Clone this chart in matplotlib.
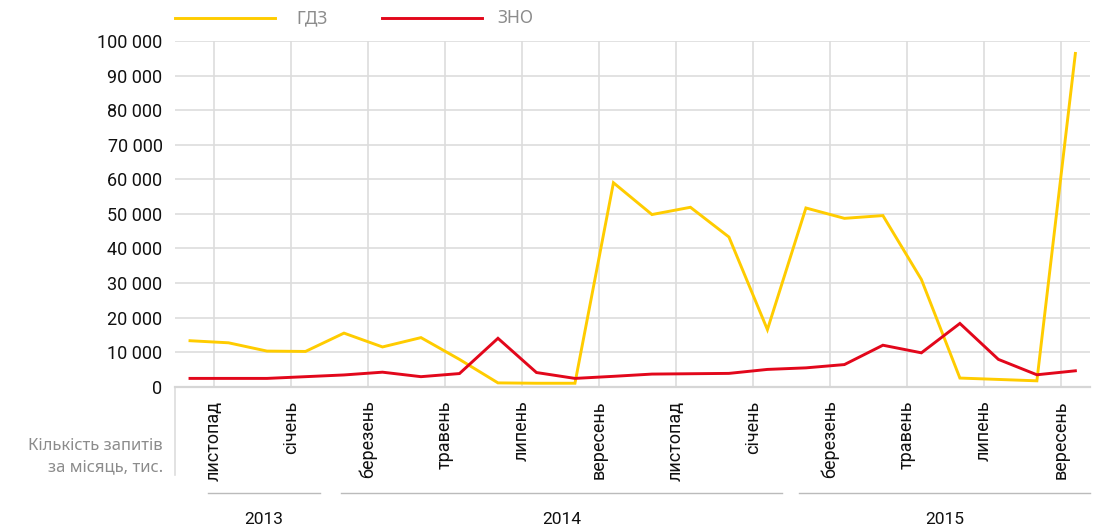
import matplotlib
matplotlib.use("Agg")
import matplotlib.pyplot as plt
import matplotlib.transforms as mtransforms
from matplotlib.lines import Line2D
from matplotlib.ticker import FuncFormatter

plt.rcParams["font.family"] = ["Roboto", "DejaVu Sans"]

# monthly values, Oct 2013 .. Sep 2015
gdz = [13300, 12700, 10300, 10200, 15500, 11500, 14200, 7900,
       1100, 1000, 1000, 59000, 49800, 51900, 43300, 16500,
       51700, 48700, 49500, 31000, 2500, 2100, 1700, 96400]
zno = [2400, 2400, 2400, 2900, 3400, 4200, 2900, 3800,
       14000, 4100, 2400, 3000, 3650, 3750, 3850, 5000,
       5450, 6400, 12000, 9800, 18300, 7900, 3450, 4600]

month_labels = ["листопад", "січень", "березень", "травень", "липень", "вересень",
                "листопад", "січень", "березень", "травень", "липень", "вересень"]
years = ["2013", "2014", "2015"]
year_spans = [(0.47, 3.38), (3.92, 15.38), (15.82, 23.38)]

yellow = "#FFCC00"
red = "#E2071B"
grid_c = "#dddddd"
grey_txt = "#8c8c8c"

fig = plt.figure(figsize=(10.96, 5.31), dpi=100)
ax = fig.add_axes([175 / 1096, (531 - 386.7) / 531, (1090 - 175) / 1096, (386.7 - 41) / 531])

x = list(range(len(gdz)))
ax.plot(x, gdz, color=yellow, lw=2.1, solid_joinstyle="miter", zorder=3)
ax.plot(x, zno, color=red, lw=2.1, solid_joinstyle="miter", zorder=4)

ax.set_xlim(-0.39, 23.38)
ax.set_ylim(0, 100000)
ax.set_yticks(range(0, 100001, 10000))
ax.yaxis.set_major_formatter(FuncFormatter(lambda v, p: f"{int(v):,}".replace(",", " ")))
ax.set_xticks([0.62 + 2 * i for i in range(len(month_labels))])
ax.set_xticklabels(month_labels, rotation=90)

ax.grid(True, color=grid_c, lw=1.2)
ax.set_axisbelow(True)
for s in ax.spines.values():
    s.set_visible(False)
ax.tick_params(axis="both", length=0, labelsize=13, colors="#111111")
ax.tick_params(axis="x", pad=10)
ax.tick_params(axis="y", pad=9)

# left border running down past the labels
ax.add_line(Line2D([0, 0], [0, -0.2555], transform=ax.transAxes, color=grid_c,
                   lw=1.2, clip_on=False))
ax.add_line(Line2D([0, 1], [0, 0], transform=ax.transAxes, color="#d6d6d6",
                   lw=1.6, clip_on=False, zorder=2))

# year brackets
trans = mtransforms.blended_transform_factory(ax.transData, ax.transAxes)
for yr, (a, b) in zip(years, year_spans):
    ax.add_line(Line2D([a, b], [-0.3075, -0.3075], transform=trans, color="#bbbbbb",
                       lw=1.0, clip_on=False))
    ax.text((a + b) / 2, -0.383, yr, transform=trans, ha="center", va="center",
            fontsize=12.5, color="#111111")

# legend
def fx(px):
    return px / 1096


def fy(py):
    return (531 - py) / 531


fig.add_artist(Line2D([fx(175), fx(275)], [fy(18), fy(18)], color=yellow, lw=2.1))
fig.text(fx(296), fy(18), "ГДЗ", color=grey_txt, fontsize=12.5, va="center",
         family=["Noto Sans", "DejaVu Sans"])
fig.add_artist(Line2D([fx(382), fx(482)], [fy(18), fy(18)], color=red, lw=2.1))
fig.text(fx(497), fy(18), "ЗНО", color=grey_txt, fontsize=12.5, va="center",
         family=["Noto Sans", "DejaVu Sans"])

fig.text(fx(163), fy(457), "Кількість запитів\nза місяць, тис.", color=grey_txt,
         fontsize=12, ha="right", va="center", multialignment="right",
         linespacing=1.45, family=["Noto Sans", "DejaVu Sans"])

fig.savefig("out.png", dpi=100)
